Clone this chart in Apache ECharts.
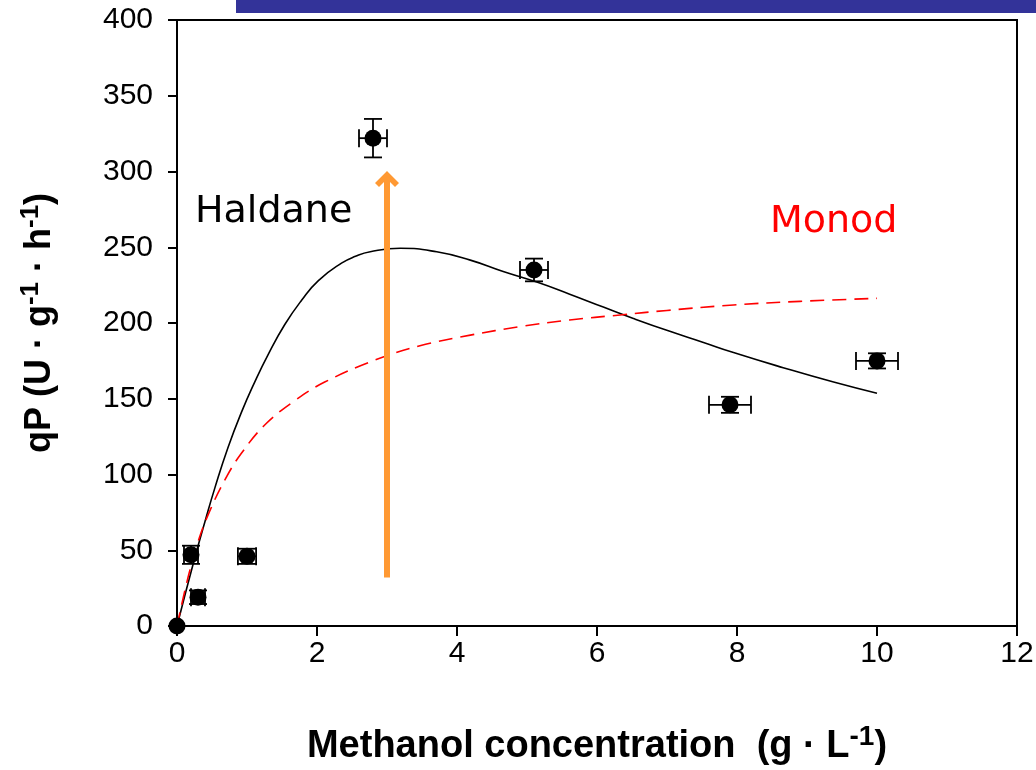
<!DOCTYPE html>
<html><head><meta charset="utf-8">
<script src="https://cdn.jsdelivr.net/npm/echarts@6/dist/echarts.min.js"></script>
<style>html,body{margin:0;padding:0;background:#fff}#c{width:1036px;height:770px}</style>
</head><body><div id="c"></div>
<script>
// Measured data points (methanol g/L vs qP)
const pointX = [0, 0.2, 0.3, 1.0, 2.8, 5.1, 7.9, 10.0];
const pointY = [0, 47, 19, 46, 322, 235, 146, 175];
const pointXErr = [0, 0.1, 0.1, 0.13, 0.2, 0.2, 0.3, 0.3];
const pointYErr = [0, 6, 4.5, 5, 12.7, 7.5, 5.3, 5];

// Haldane fit curve
const haldaneX = [0, 0.26, 0.40, 0.54, 0.73, 0.92, 1.11, 1.30, 1.54, 1.78, 2.02, 2.35, 2.55, 2.76, 3.19, 3.71, 4.19, 4.66, 5.14, 5.61, 6.09, 6.52, 7.04, 7.50, 7.95, 8.66, 9.38, 10.0];
const haldaneY = [0, 46, 69, 91, 118, 141, 161, 179, 199, 215, 228, 239.5, 244, 247, 249.3, 247, 241.5, 234, 227, 219, 210.5, 203, 194.5, 187.5, 180.5, 170.5, 161, 153.6];

// Monod fit curve
const monodX = [0, 0.16, 0.30, 0.45, 0.69, 0.92, 1.26, 1.69, 2.11, 2.83, 3.47, 4.19, 4.90, 5.61, 6.33, 7.0, 7.95, 8.9, 10.0];
const monodY = [0, 32.5, 55.5, 74, 97, 114, 133, 149, 161, 175.6, 185, 192, 197.6, 202, 205.3, 208.3, 211.9, 214.3, 216.3];

// Orange arrow annotation (x position, from / to values)
const arrowX = 3.0;
const arrowFrom = 32;
const arrowTo = 295;

const xMin = 0, xMax = 12, xStep = 2;
const yMin = 0, yMax = 400, yStep = 50;

const chart = echarts.init(document.getElementById('c'), null, {renderer: 'canvas'});

const zip = (a, b) => a.map((v, i) => [v, b[i]]);
const errData = pointX.map((x, i) => [x, pointY[i], pointXErr[i], pointYErr[i]]);

const chevron = 'path://M12,0 L24,12 L20,16 L12,8 L4,16 L0,12 Z';
const sans = 'Liberation Sans, Arial, sans-serif';

const option = {
  animation: false,
  backgroundColor: '#ffffff',
  grid: {left: 177, right: 19, top: 20, bottom: 144, show: true, borderColor: '#000', borderWidth: 2, backgroundColor: 'transparent', containLabel: false, outerBoundsMode: 'none'},
  xAxis: {
    type: 'value', min: xMin, max: xMax, interval: xStep,
    name: '{b|Methanol concentration  (g · L}{s|-1}{b|)}',
    nameLocation: 'middle', nameGap: 97,
    nameTextStyle: {
      rich: {
        b: {fontFamily: sans, fontWeight: 'bold', fontSize: 38, color: '#000'},
        s: {fontFamily: sans, fontWeight: 'bold', fontSize: 28, color: '#000', padding: [0, 0, 20, 0]}
      }
    },
    axisLine: {show: true, onZero: false, lineStyle: {color: '#000', width: 2}},
    axisTick: {show: true, inside: false, length: 10, lineStyle: {color: '#000', width: 2}},
    axisLabel: {fontFamily: sans, fontSize: 30, color: '#000', margin: 13},
    splitLine: {show: false}
  },
  yAxis: {
    type: 'value', min: yMin, max: yMax, interval: yStep,
    name: '{b|qP (U · g}{s|-1}{b| · h}{s|-1}{b|)}',
    nameLocation: 'middle', nameGap: 115, nameRotate: 90,
    nameTextStyle: {
      rich: {
        b: {fontFamily: sans, fontWeight: 'bold', fontSize: 36, color: '#000'},
        s: {fontFamily: sans, fontWeight: 'bold', fontSize: 26, color: '#000', padding: [0, 0, 18, 0]}
      }
    },
    axisLine: {show: true, onZero: false, lineStyle: {color: '#000', width: 2}},
    axisTick: {show: true, inside: false, length: 9, lineStyle: {color: '#000', width: 2}},
    axisLabel: {fontFamily: sans, fontSize: 30, color: '#000', margin: 24},
    splitLine: {show: false}
  },
  graphic: [
    {type: 'rect', left: 236, top: 0, shape: {width: 800, height: 13}, style: {fill: '#333399'}, z: 100},
    {type: 'text', x: 195, y: 212, style: {text: 'Haldane', fontFamily: "'Comic Sans MS', 'DejaVu Sans', sans-serif", fontSize: 38, fill: '#000', textVerticalAlign: 'middle'}, z: 100},
    {type: 'text', x: 770, y: 222, style: {text: 'Monod', fontFamily: "'Comic Sans MS', 'DejaVu Sans', sans-serif", fontSize: 38, fill: '#ff0000', textVerticalAlign: 'middle'}, z: 100}
  ],
  series: [
    {
      name: 'Haldane', type: 'line', data: zip(haldaneX, haldaneY), smooth: 0.5,
      showSymbol: false, symbol: 'none', lineStyle: {color: '#000', width: 1.6}, z: 3
    },
    {
      name: 'Monod', type: 'line', data: zip(monodX, monodY), smooth: 0.4,
      showSymbol: false, symbol: 'none', lineStyle: {color: '#ff0000', width: 1.6, type: [14, 8]}, z: 3
    },
    {
      name: 'arrow', type: 'line', data: [], z: 4,
      markLine: {
        silent: true, animation: false,
        symbol: ['none', chevron], symbolSize: [24, 16],
        label: {show: false},
        lineStyle: {color: '#FF9933', width: 6, type: 'solid'},
        itemStyle: {color: '#FF9933'},
        data: [[{coord: [arrowX, arrowFrom]}, {coord: [arrowX, arrowTo]}]]
      }
    },
    {
      name: 'err', type: 'custom', data: errData, z: 6, clip: false,
      renderItem: function (params, api) {
        const x = api.value(0), y = api.value(1), ex = api.value(2), ey = api.value(3);
        const children = [];
        const st = {stroke: '#000', lineWidth: 1.8};
        const cap = 9;
        if (ey > 0) {
          const t = api.coord([x, y + ey]), b = api.coord([x, y - ey]);
          children.push({type: 'line', shape: {x1: t[0], y1: t[1], x2: b[0], y2: b[1]}, style: st});
          children.push({type: 'line', shape: {x1: t[0] - cap, y1: t[1], x2: t[0] + cap, y2: t[1]}, style: st});
          children.push({type: 'line', shape: {x1: b[0] - cap, y1: b[1], x2: b[0] + cap, y2: b[1]}, style: st});
        }
        if (ex > 0) {
          const l = api.coord([x - ex, y]), r = api.coord([x + ex, y]);
          children.push({type: 'line', shape: {x1: l[0], y1: l[1], x2: r[0], y2: r[1]}, style: st});
          children.push({type: 'line', shape: {x1: l[0], y1: l[1] - cap, x2: l[0], y2: l[1] + cap}, style: st});
          children.push({type: 'line', shape: {x1: r[0], y1: r[1] - cap, x2: r[0], y2: r[1] + cap}, style: st});
        }
        return {type: 'group', children: children};
      }
    },
    {
      name: 'data', type: 'scatter', data: zip(pointX, pointY), symbol: 'circle', symbolSize: 17,
      itemStyle: {color: '#000', opacity: 1}, clip: false, z: 5
    }
  ]
};
chart.setOption(option);
</script>
</body></html>
